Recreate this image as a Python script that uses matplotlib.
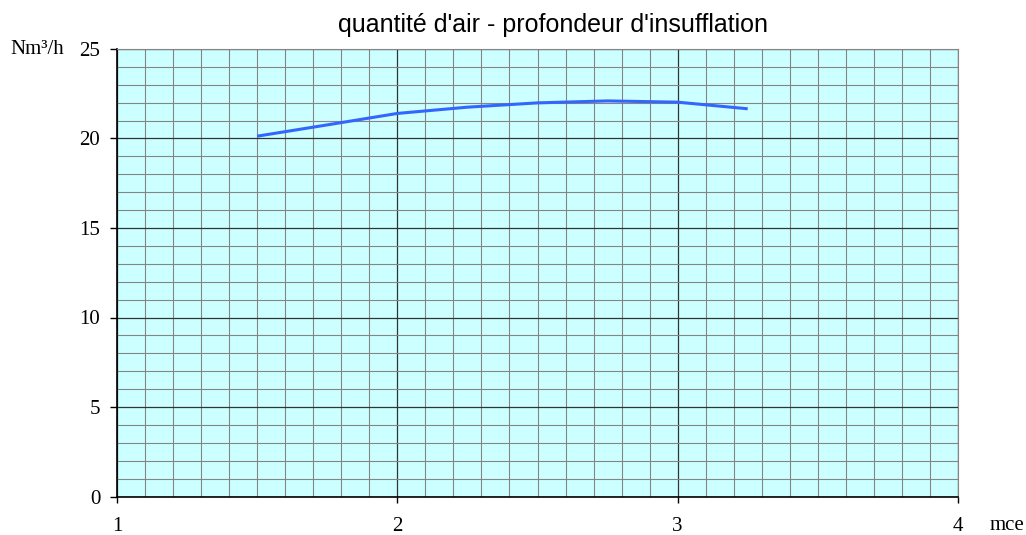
import numpy as np
import matplotlib.pyplot as plt
from matplotlib.ticker import MultipleLocator

# profondeur d'insufflation (mce) et quantité d'air (Nm³/h)
profondeur = [1.5, 1.75, 2.0, 2.25, 2.5, 2.75, 3.0, 3.25]
quantite_air = [20.13, 20.76, 21.4, 21.75, 21.99, 22.1, 22.03, 21.66]

x_ticks = [1, 2, 3, 4]
y_ticks = [0, 5, 10, 15, 20, 25]

serif = ['Liberation Serif', 'DejaVu Serif']
sans = ['Liberation Sans', 'DejaVu Sans']

fig = plt.figure(figsize=(10.26, 5.35), dpi=100)
ax = fig.add_axes([117 / 1026, 1 - 496.5 / 535, (958 - 117) / 1026, (496.5 - 49) / 535])
ax.set_facecolor('#CCFFFF')

ax.set_xlim(1, 4)
ax.set_ylim(0, 25)

# grilles
ax.xaxis.set_major_locator(MultipleLocator(1))
ax.xaxis.set_minor_locator(MultipleLocator(0.1))
ax.yaxis.set_major_locator(MultipleLocator(5))
ax.yaxis.set_minor_locator(MultipleLocator(1))
ax.grid(which='minor', color='#858585', linewidth=0.8)
ax.grid(which='major', color='#333333', linewidth=0.9)
ax.set_axisbelow(True)

ax.plot(profondeur, quantite_air, color='#3366FF', linewidth=2.2, solid_capstyle='butt')

ax.set_xticks(x_ticks)
ax.set_yticks(y_ticks)
ax.set_xticklabels([str(v) for v in x_ticks], family=serif, fontsize=15)
ax.set_yticklabels([str(v) for v in y_ticks], family=serif, fontsize=15)
ax.tick_params(axis='x', which='major', direction='out', length=4.5, pad=10, width=1)
ax.tick_params(axis='y', which='major', direction='out', length=5, pad=7, width=1)
ax.tick_params(which='minor', length=0)

for s in ['top', 'right']:
    ax.spines[s].set_color('#858585')
    ax.spines[s].set_linewidth(0.8)
for s in ['left', 'bottom']:
    ax.spines[s].set_color('black')
    ax.spines[s].set_linewidth(1.2)

fig.text(553 / 1026, 1 - 25 / 535, "quantité d'air - profondeur d'insufflation",
         family=sans, fontsize=18, ha='center', va='center')

fig.text(10 / 1026, 1 - 50 / 535, 'Nm³/h', family=serif, fontsize=15, va='center', ha='left')
fig.text(990 / 1026, 1 - 525 / 535, 'mce', family=serif, fontsize=15, va='center', ha='left')

fig.savefig('out.png', dpi=100)
